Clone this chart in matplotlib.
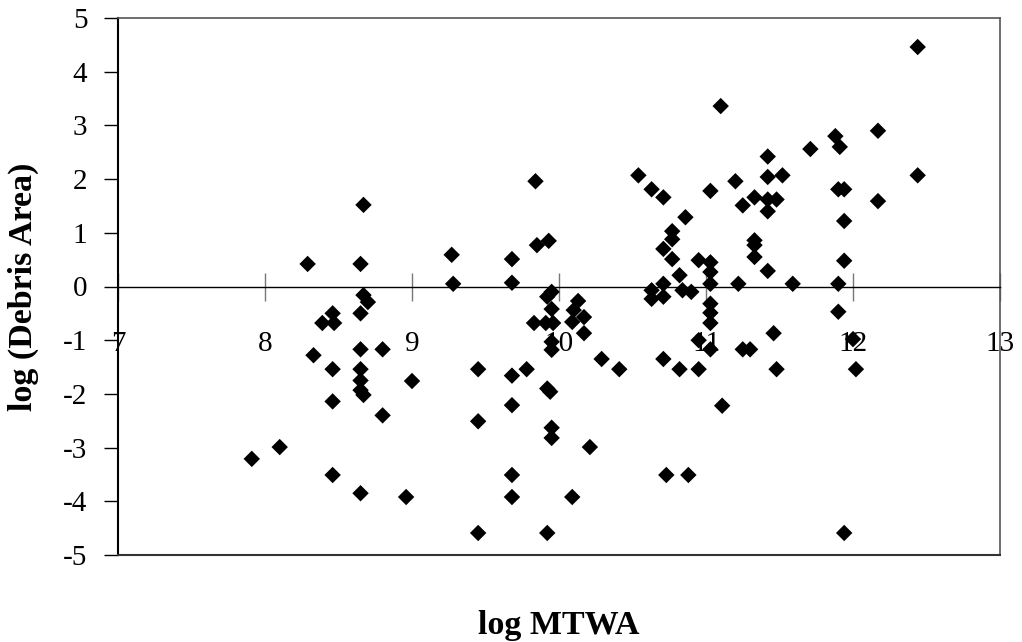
import matplotlib
matplotlib.use("Agg")
import matplotlib.pyplot as plt

# log MTWA vs log (Debris Area)
log_mtwa = [
    8.29, 8.65, 8.67, 8.67, 8.70, 8.46, 8.65, 8.39, 8.47, 8.33,
    8.65, 8.80, 8.46, 8.65, 8.65, 8.65, 8.67, 8.46, 8.80, 9.00,
    8.10, 7.91, 8.46, 8.65, 8.96,
    9.84, 9.27, 9.68, 9.85, 9.93, 9.28, 9.68,
    9.95, 9.92, 10.13, 9.95, 10.10, 10.17, 9.83, 9.91, 9.96, 10.09,
    10.17, 9.95, 9.95, 10.29, 10.41, 9.45, 9.68, 9.78, 9.92, 9.94,
    9.68, 9.45, 9.95, 9.95, 10.21, 9.68, 9.68, 10.09, 9.45, 9.92,
    10.54, 10.63, 10.71, 10.86, 10.77, 10.77, 10.71, 10.77, 10.95, 10.82,
    10.71, 10.63, 10.71, 10.63, 10.84, 10.90, 10.71, 10.82, 10.95, 10.95,
    10.73, 10.88,
    12.44, 11.10, 12.17, 11.88, 11.91, 11.71, 11.42, 11.52, 11.42, 11.20,
    12.44, 11.03, 11.90, 11.94, 12.17, 11.33, 11.25, 11.42, 11.48, 11.42,
    11.94, 11.33, 11.33, 11.33, 11.03, 11.03, 11.42, 11.94, 11.03, 11.22,
    11.59, 11.90,
    11.03, 11.03, 11.03, 11.90, 11.46, 11.03, 11.25, 11.30, 12.00, 11.48,
    12.02, 11.11, 11.94,
]
log_debris = [
    0.42, 0.42, 1.52, -0.16, -0.29, -0.50, -0.50, -0.68, -0.68, -1.28,
    -1.17, -1.17, -1.54, -1.54, -1.75, -1.93, -2.02, -2.14, -2.40, -1.76,
    -2.99, -3.21, -3.51, -3.85, -3.92,
    1.96, 0.59, 0.51, 0.77, 0.85, 0.05, 0.07,
    -0.10, -0.19, -0.27, -0.42, -0.44, -0.57, -0.68, -0.68, -0.68, -0.66,
    -0.87, -1.03, -1.18, -1.35, -1.54, -1.54, -1.66, -1.54, -1.90, -1.96,
    -2.21, -2.51, -2.63, -2.82, -2.99, -3.51, -3.92, -3.92, -4.59, -4.59,
    2.07, 1.81, 1.66, 1.29, 1.03, 0.88, 0.70, 0.51, 0.49, 0.21,
    0.05, -0.07, -0.19, -0.23, -0.07, -0.10, -1.35, -1.54, -1.54, -1.00,
    -3.51, -3.51,
    4.46, 3.36, 2.90, 2.80, 2.60, 2.56, 2.42, 2.07, 2.04, 1.96,
    2.07, 1.78, 1.81, 1.81, 1.59, 1.66, 1.51, 1.62, 1.62, 1.40,
    1.22, 0.86, 0.77, 0.55, 0.45, 0.27, 0.29, 0.48, 0.05, 0.05,
    0.05, 0.05,
    -0.32, -0.49, -0.68, -0.47, -0.87, -1.17, -1.17, -1.17, -0.98, -1.54,
    -1.54, -2.22, -4.59,
]

x_ticks = [7, 8, 9, 10, 11, 12, 13]
y_ticks = [-5, -4, -3, -2, -1, 0, 1, 2, 3, 4, 5]

plt.rcParams['font.family'] = ['Liberation Serif', 'DejaVu Serif']
plt.rcParams['axes.unicode_minus'] = False

fig = plt.figure(figsize=(10.22, 6.42), dpi=100)
ax = fig.add_axes([118 / 1022, 1 - 555 / 642, 882 / 1022, 537 / 642])

ax.scatter(log_mtwa, log_debris, marker='D', s=70, color='black',
           edgecolors='none', zorder=3)

ax.set_xlim(7, 13)
ax.set_ylim(-5, 5)
ax.set_xticks(x_ticks)
ax.set_yticks(y_ticks)

# x axis runs through y = 0, frame kept around the plot
ax.spines['bottom'].set_position(('data', 0))
ax.spines['bottom'].set_linewidth(1.0)
ax.spines['left'].set_linewidth(1.5)
for side in ('top', 'right'):
    ax.spines[side].set_color('#555555')
    ax.spines[side].set_linewidth(1.2)
ax.axhline(-5, color='#333333', lw=1.5, clip_on=False, zorder=4)

ax.tick_params(axis='x', direction='inout', length=20, width=1,
               color='#777777', pad=22, labelsize=21)
ax.tick_params(axis='y', direction='out', length=10, width=1,
               pad=12, labelsize=21)

ax.set_xlabel('log MTWA', fontsize=24.5, fontweight='bold')
ax.xaxis.set_label_coords(0.5, -0.103)
ax.set_ylabel('log (Debris Area)', fontsize=24.5, fontweight='bold')
ax.yaxis.set_label_coords(-0.09, 0.5)

fig.savefig('out.png', dpi=100)
